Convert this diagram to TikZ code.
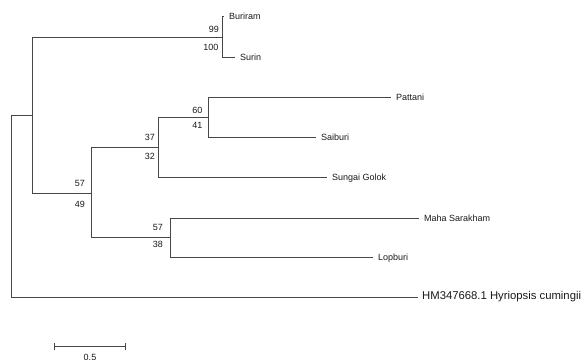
\documentclass[tikz,border=0pt]{standalone}
\usepackage{fontspec}
\setmainfont{Liberation Sans}
\begin{document}
\begin{tikzpicture}[x=1pt,y=-1pt,
  branch/.style={draw=black!72,line width=0.9pt},
  leaf/.style={anchor=west,inner sep=0pt,xshift=5pt,font=\fontsize{9}{10}\selectfont,text=black!90},
  outleaf/.style={anchor=west,inner sep=0pt,xshift=4pt,font=\fontsize{11.3}{13}\selectfont,text=black!90},
  boot/.style={anchor=east,inner sep=0pt,font=\fontsize{9}{10}\selectfont,text=black!90}]
\useasboundingbox (0,0) rectangle (586,363);
% internal nodes
\coordinate (nR) at (11.7,206);
\coordinate (nA) at (32,115);
\coordinate (nB) at (222.7,37.7);
\coordinate (nC) at (91,193);
\coordinate (nD) at (158.3,147);
\coordinate (nE) at (208.3,117.7);
\coordinate (nF) at (170,237.7);
% tips
\coordinate (tBuriram) at (224,16);
\coordinate (tSurin) at (235,57);
\coordinate (tPattani) at (391,97);
\coordinate (tSaiburi) at (316,137.3);
\coordinate (tSungai) at (327,177.7);
\coordinate (tMaha) at (419,218);
\coordinate (tLopburi) at (373,257.7);
\coordinate (tHM) at (418,297);
% branches
\draw[branch] (nR) |- (nA);
\draw[branch] (nR) |- (tHM);
\draw[branch] (nA) |- (nB);
\draw[branch] (nA) |- (nC);
\draw[branch] (nB) |- (tBuriram);
\draw[branch] (nB) |- (tSurin);
\draw[branch] (nC) |- (nD);
\draw[branch] (nC) |- (nF);
\draw[branch] (nD) |- (nE);
\draw[branch] (nD) |- (tSungai);
\draw[branch] (nE) |- (tPattani);
\draw[branch] (nE) |- (tSaiburi);
\draw[branch] (nF) |- (tMaha);
\draw[branch] (nF) |- (tLopburi);
% tip labels
\node[leaf] (lBuriram) at (tBuriram) {Buriram};
\node[leaf] (lSurin) at (tSurin) {Surin};
\node[leaf] (lPattani) at (tPattani) {Pattani};
\node[leaf] (lSaiburi) at (tSaiburi) {Saiburi};
\node[leaf] (lSungai) at (tSungai) {Sungai Golok};
\node[leaf] (lMaha) at (tMaha) {Maha Sarakham};
\node[leaf] (lLopburi) at (tLopburi) {Lopburi};
\node[outleaf] (lHM) at (tHM) {HM347668.1 Hyriopsis cumingii};
% bootstrap values
\node[boot] (b99) at (219,29) {99};
\node[boot] (b100) at (218.5,47) {100};
\node[boot] (b60) at (202.5,110.5) {60};
\node[boot] (b41) at (202.5,125) {41};
\node[boot] (b37) at (155,137.5) {37};
\node[boot] (b32) at (155,156) {32};
\node[boot] (b57a) at (85,183) {57};
\node[boot] (b49) at (85,204) {49};
\node[boot] (b57b) at (163,227) {57};
\node[boot] (b38) at (163,244) {38};
% scale bar
\coordinate (sL) at (54.3,346.7);
\coordinate (sR) at (125,346.7);
\draw[branch] (sL) -- (sR);
\draw[branch] ([yshift=-3.5pt]sL) -- ([yshift=3.5pt]sL);
\draw[branch] ([yshift=-3.5pt]sR) -- ([yshift=3.5pt]sR);
\node[inner sep=0pt,font=\fontsize{9}{10}\selectfont,text=black!90] (sLabel) at (90,357.5) {0.5};
\end{tikzpicture}
\end{document}
